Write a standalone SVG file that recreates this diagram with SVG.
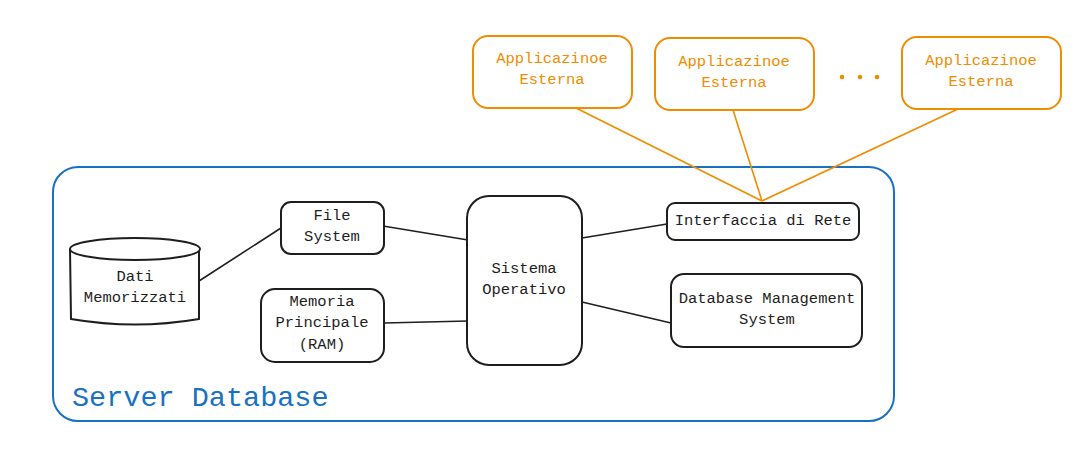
<svg xmlns="http://www.w3.org/2000/svg" width="1081" height="454" viewBox="0 0 1081 454">
<style>
.n{fill:#fff;stroke:#1e1e1e;stroke-width:2}
.a{fill:#fff;stroke:#f08c00;stroke-width:2}
.t{font-family:"Liberation Mono","DejaVu Sans Mono",monospace;font-size:15.5px;fill:#1e1e1e;text-anchor:middle;dominant-baseline:central}
.to{fill:#f08c00}
.c{stroke:#1e1e1e;stroke-width:1.6;fill:none}
.co{stroke:#f08c00;stroke-width:1.6;fill:none}
</style>
<rect width="1081" height="454" fill="#fff"/>
<g id="server">
<rect x="53" y="167" width="841" height="254" rx="25" fill="none" stroke="#1971c2" stroke-width="2"/>
<text x="72" y="406" font-family="Liberation Mono,DejaVu Sans Mono,monospace" font-size="28.5" fill="#1971c2">Server Database</text>
</g>
<g id="connectors">
<line class="co" x1="576" y1="108" x2="762" y2="201"/>
<line class="co" x1="733" y1="110" x2="762" y2="201"/>
<line class="co" x1="958" y1="109" x2="762" y2="201"/>
<line class="c" x1="199" y1="281" x2="281" y2="228"/>
<line class="c" x1="383" y1="226" x2="468" y2="240"/>
<line class="c" x1="384" y1="323" x2="468" y2="321"/>
<line class="c" x1="582" y1="238" x2="667" y2="224"/>
<line class="c" x1="582" y1="302" x2="671" y2="323"/>
</g>
<g id="app1">
<rect class="a" x="473" y="36" width="159" height="72" rx="15"/>
<text class="t to" x="552" y="59">Applicazinoe</text>
<text class="t to" x="552" y="80">Esterna</text>
</g>
<g id="app2">
<rect class="a" x="655" y="38" width="159" height="72" rx="15"/>
<text class="t to" x="734" y="62">Applicazinoe</text>
<text class="t to" x="734" y="83">Esterna</text>
</g>
<g id="dots" fill="#f08c00">
<circle cx="842" cy="77" r="2.3"/>
<circle cx="860" cy="77" r="2.3"/>
<circle cx="877" cy="77" r="2.3"/>
</g>
<g id="app3">
<rect class="a" x="902" y="37" width="159" height="72" rx="15"/>
<text class="t to" x="981" y="61">Applicazinoe</text>
<text class="t to" x="981" y="82">Esterna</text>
</g>
<g id="interfaccia">
<rect class="n" x="667" y="203" width="192" height="37" rx="8"/>
<text class="t" x="763" y="221">Interfaccia di Rete</text>
</g>
<g id="dbms">
<rect class="n" x="671" y="274" width="191" height="73" rx="13"/>
<text class="t" x="767" y="299">Database Management</text>
<text class="t" x="767" y="320">System</text>
</g>
<g id="sistema">
<rect class="n" x="467" y="196" width="115" height="169" rx="22"/>
<text class="t" x="524" y="269">Sistema</text>
<text class="t" x="524" y="290">Operativo</text>
</g>
<g id="filesystem">
<rect class="n" x="281" y="202" width="103" height="52" rx="10"/>
<text class="t" x="332" y="216">File</text>
<text class="t" x="332" y="237">System</text>
</g>
<g id="memoria">
<rect class="n" x="261" y="289" width="123" height="73" rx="14"/>
<text class="t" x="322" y="302">Memoria</text>
<text class="t" x="322" y="323">Principale</text>
<text class="t" x="322" y="345">(RAM)</text>
</g>
<g id="dati">
<path class="n" d="M70,249 L71,319 Q135,330 199,319 L199,249"/>
<ellipse class="n" cx="135" cy="249" rx="65" ry="11"/>
<text class="t" x="135" y="277">Dati</text>
<text class="t" x="135" y="298">Memorizzati</text>
</g>
</svg>
